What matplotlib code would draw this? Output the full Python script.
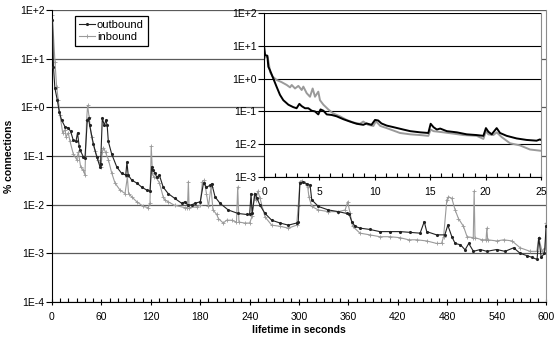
import numpy as np
import matplotlib
matplotlib.use('Agg')
import matplotlib.pyplot as plt
from matplotlib.ticker import MultipleLocator, FixedLocator, FuncFormatter, NullLocator

plt.rcParams['font.family'] = ['Liberation Sans', 'DejaVu Sans']

# main chart, 0..600 s
outT = [0.5, 1.8, 3.5, 6.5, 8.9, 11.7, 15.8, 19.8, 22.7, 25.9, 29.1, 31, 33, 34, 38, 40,
        42.9, 44.4, 45.7, 50.2, 54.3, 58.3, 59, 61.1, 63.5, 65.5, 67, 68.4, 72.5, 78.6,
        84.6, 89.6, 91, 92.5, 96.8, 102.8, 109, 115, 119, 121, 122.5, 125.3, 127, 130.5,
        135, 141, 149, 157.5, 161.5, 165, 170, 173.7, 180, 184, 187.5, 192, 194, 198, 204,
        214, 226, 236.5, 240, 241.7, 243, 246.5, 249, 252.6, 258.7, 266.8, 277, 287, 297,
        299, 301, 305, 309.4, 313.4, 315.4, 323.5, 335.7, 347.8, 358, 361, 364, 368, 374,
        386, 398, 410.5, 422.7, 435, 447, 452, 455, 467, 477, 480.6, 485.5, 489.5, 496,
        501.6, 506, 511.7, 520, 528, 540, 550, 560.5, 568.5, 576.5, 582.6, 589, 591, 594,
        598, 600]
outV = [62, 6.8, 2.5, 1.4, 0.8, 0.55, 0.40, 0.38, 0.32, 0.21, 0.20, 0.30, 0.16, 0.135, 0.097, 0.09,
        0.55, 0.60, 0.43, 0.18, 0.097, 0.06, 0.068, 0.60, 0.43, 0.55, 0.43, 0.20, 0.11, 0.06,
        0.044, 0.041, 0.075, 0.041, 0.032, 0.028, 0.023, 0.020, 0.019, 0.06, 0.051, 0.044, 0.037, 0.040,
        0.023, 0.017, 0.0135, 0.0107, 0.0115, 0.0097, 0.010, 0.0107, 0.0115, 0.028, 0.023, 0.025, 0.027, 0.0145, 0.0107,
        0.0078, 0.0066, 0.0063, 0.0063, 0.017, 0.0066, 0.017, 0.0135, 0.0097, 0.0066, 0.0048, 0.0042, 0.0038, 0.0042,
        0.0044, 0.028, 0.029, 0.027, 0.025, 0.0126, 0.0092, 0.0078, 0.0072, 0.0066, 0.0063, 0.0045, 0.0036, 0.0033,
        0.0031, 0.0028, 0.0028, 0.0028, 0.0027, 0.0026, 0.0045, 0.0028, 0.0024, 0.0024, 0.0038, 0.0022, 0.0016, 0.0015,
        0.00118, 0.0016, 0.0011, 0.0012, 0.0011, 0.0012, 0.0011, 0.0013, 0.0010, 0.0009, 0.00083, 0.00075, 0.0021, 0.00083,
        0.0010, 0.0036]

inT = [0.4, 3.6, 5.7, 7.7, 9.7, 13, 15.8, 17, 19.8, 21.9, 25.9, 30, 32, 34.8, 38, 40,
       42, 43.3, 45, 48, 52, 56.3, 59.5, 61, 62.5, 65, 68.4, 72.5, 76.5, 82.6, 88.7, 91.5,
       93, 96.8, 103, 111, 117, 119, 120.5, 122, 123.5, 127, 130.5, 135, 137, 141, 149,
       161.5, 164.5, 165.6, 166.5, 175.6, 180, 182.6, 185, 187.5, 190, 193, 195.5, 200, 202,
       208, 212, 218, 224, 225.5, 227, 234, 240, 243, 245.8, 247.5, 250, 252.6, 258.7, 266.8,
       277, 287, 297, 299, 301, 303, 307, 310.5, 312, 315.4, 323.5, 335.7, 347.8, 356, 359,
       362, 365, 374, 386, 398, 410.5, 422.7, 433, 443, 455, 467, 473, 475.5, 479.4, 481.4,
       485.5, 489.5, 493.5, 499.6, 504, 511.5, 512.6, 513.6, 522, 527, 528, 529, 540, 548.5,
       558.6, 568.5, 580.6, 588.7, 591, 595, 599, 600]
inV = [79, 8.7, 2.6, 1.4, 0.7, 0.30, 0.35, 0.25, 0.30, 0.20, 0.11, 0.085, 0.12, 0.06, 0.051, 0.041,
       0.55, 1.1, 0.65, 0.25, 0.13, 0.085, 0.06, 0.12, 0.15, 0.12, 0.085, 0.045, 0.028, 0.020, 0.017, 0.037,
       0.017, 0.0145, 0.0115, 0.0092, 0.0087, 0.011, 0.16, 0.045, 0.037, 0.035, 0.028, 0.0145, 0.0126, 0.0115, 0.0097,
       0.0087, 0.0087, 0.030, 0.0087, 0.009, 0.0097, 0.030, 0.032, 0.017, 0.0092, 0.023, 0.0078, 0.0063, 0.0052,
       0.0042, 0.0048, 0.0048, 0.0044, 0.023, 0.0044, 0.0042, 0.0042, 0.0058, 0.017, 0.0126, 0.019, 0.0135, 0.0056, 0.0038,
       0.0036, 0.0033, 0.0038, 0.0092, 0.030, 0.031, 0.028, 0.023, 0.0145, 0.0092, 0.0078, 0.0072, 0.0072, 0.0078, 0.0115,
       0.0066, 0.0036, 0.0026, 0.0024, 0.0022, 0.0022, 0.0021, 0.0019, 0.0019, 0.0018, 0.0016, 0.0016, 0.0022, 0.0126, 0.0146,
       0.0135, 0.0078, 0.0052, 0.0036, 0.0022, 0.0021, 0.019, 0.0021, 0.0019, 0.0019, 0.0033, 0.0019, 0.0018, 0.0019,
       0.0018, 0.0013, 0.0011, 0.0011, 0.0021, 0.0011, 0.0013, 0.0042]

# inset, first 25 s
zoomOutT = [0, 0.1, 0.3, 0.39, 0.54, 0.84, 1.14, 1.44, 1.74, 2.2, 2.64, 2.94, 3.19, 3.4, 3.7, 4.0,
            4.3, 4.6, 4.9, 5.1, 5.36, 5.66, 6.1, 6.55, 7.15, 7.76, 8.36, 8.96, 9.26, 9.7, 10.02,
            10.3, 10.6, 11.07, 11.7, 12.57, 13.2, 14.1, 14.83, 15.04, 15.3, 15.6, 15.9, 16.5, 17.4,
            18.3, 19.2, 19.8, 20.03, 20.25, 20.55, 21.0, 21.3, 21.9, 22.8, 23.7, 24.6, 24.9, 25]
zoomOutV = [10, 5.2, 5.0, 2.3, 1.8, 1.0, 0.56, 0.32, 0.22, 0.16, 0.135, 0.125, 0.17, 0.145, 0.125, 0.125,
            0.105, 0.10, 0.081, 0.115, 0.105, 0.081, 0.078, 0.071, 0.058, 0.049, 0.042, 0.039, 0.043, 0.039, 0.055,
            0.053, 0.043, 0.037, 0.033, 0.028, 0.025, 0.023, 0.022, 0.042, 0.033, 0.028, 0.030, 0.025, 0.023,
            0.020, 0.019, 0.018, 0.031, 0.024, 0.020, 0.031, 0.022, 0.018, 0.015, 0.0135, 0.0128, 0.014, 0.0135]

zoomInT = [0, 0.1, 0.33, 0.48, 0.54, 0.78, 1.14, 1.59, 2.05, 2.35, 2.5, 2.8, 3.1, 3.4, 3.55, 3.85,
           4.15, 4.39, 4.6, 4.9, 5.05, 5.36, 5.8, 6.24, 6.85, 7.46, 8.06, 8.66, 8.96, 9.4, 9.87,
           10.1, 10.5, 11.07, 11.97, 12.27, 13.2, 14.1, 14.83, 15.04, 15.3, 16.2, 17.1, 18.0, 19.2,
           19.8, 20.03, 20.25, 20.7, 21.0, 21.45, 22.2, 23.1, 24.0, 25]
zoomInV = [3.7, 4.7, 4.5, 2.3, 1.6, 1.15, 0.91, 0.78, 0.64, 0.54, 0.64, 0.50, 0.60, 0.45, 0.57, 0.36,
           0.28, 0.50, 0.28, 0.40, 0.22, 0.16, 0.115, 0.087, 0.071, 0.055, 0.046, 0.042, 0.049, 0.039, 0.036,
           0.05, 0.036, 0.031, 0.024, 0.022, 0.020, 0.019, 0.018, 0.028, 0.025, 0.023, 0.021, 0.019, 0.018,
           0.0145, 0.025, 0.020, 0.019, 0.023, 0.0165, 0.0107, 0.0092, 0.0069, 0.0063]

darkCol = '#222222'
greyCol = '#9a9a9a'


def expLabel(v, pos):
    return '1E{:+d}'.format(int(round(np.log10(v))))


def styleLogAxis(a, decades, gridCol, gridLw):
    a.set_yscale('log')
    a.yaxis.set_major_locator(FixedLocator(decades))
    a.yaxis.set_minor_locator(NullLocator())
    a.yaxis.set_major_formatter(FuncFormatter(expLabel))
    for d in decades:
        a.axhline(d, color=gridCol, lw=gridLw, zorder=1)
    a.spines['left'].set_color('black')
    a.spines['bottom'].set_color('black')
    a.spines['top'].set_visible(False)
    a.spines['right'].set_color('#8c8c8c')
    a.tick_params(axis='y', which='major', direction='out', length=4, width=0.8, labelsize=7.5, pad=1.5)
    a.tick_params(axis='x', which='major', direction='inout', length=5, width=0.8, labelsize=7.5, pad=5)
    a.tick_params(axis='x', which='minor', direction='in', length=3, width=0.8)


fig = plt.figure(figsize=(5.59, 3.38), dpi=100)
ax = fig.add_axes([0.093, 0.1065, 0.884, 0.8635])
styleLogAxis(ax, [1e-4, 1e-3, 1e-2, 1e-1, 1e0, 1e1, 1e2], '#5a5a5a', 0.9)
ax.set_xlim(0, 600)
ax.set_ylim(1e-4, 1e2)
ax.xaxis.set_major_locator(MultipleLocator(60))
ax.xaxis.set_minor_locator(MultipleLocator(10))

ax.plot(inT, inV, color=greyCol, lw=0.8, marker='+', ms=2.5, mew=0.6, label='inbound', zorder=2)
ax.plot(outT, outV, color=darkCol, lw=0.8, marker='.', ms=2.5, label='outbound', zorder=3)

handles, labels = ax.get_legend_handles_labels()
leg = ax.legend(handles[::-1], labels[::-1], loc='upper left', bbox_to_anchor=(0.047, 0.98),
                fontsize=8, frameon=True, fancybox=False, edgecolor='black', framealpha=1,
                handlelength=1.4, handletextpad=0.2, borderpad=0.35, labelspacing=0.2, borderaxespad=0)
leg.get_frame().set_linewidth(0.9)

ax.set_xlabel('lifetime in seconds', fontsize=7.5, fontweight='bold', labelpad=1.5)
ax.set_ylabel('% connections', fontsize=7.5, fontweight='bold', labelpad=4)

# inset
ins = fig.add_axes([0.4723, 0.4763, 0.4955, 0.4852])
ins.set_facecolor('white')
styleLogAxis(ins, [1e-3, 1e-2, 1e-1, 1e0, 1e1, 1e2], 'black', 0.8)
ins.set_xlim(0, 25)
ins.set_ylim(1e-3, 1e2)
ins.xaxis.set_major_locator(MultipleLocator(5))
ins.xaxis.set_minor_locator(MultipleLocator(1))
ins.plot(zoomInT, zoomInV, color=greyCol, lw=1.4, zorder=2)
ins.plot(zoomOutT, zoomOutV, color='black', lw=1.4, zorder=3)

fig.savefig('out.png', dpi=100)
